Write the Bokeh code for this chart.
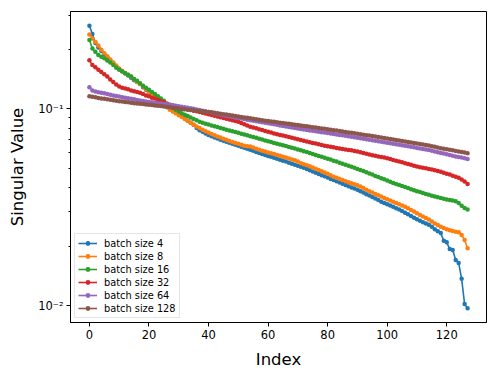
from bokeh.plotting import figure
from bokeh.models import Range1d, FixedTicker, CustomJSTickFormatter, Legend, LegendItem
from bokeh.embed import file_html
from bokeh.resources import INLINE
import math

index = list(range(128))

bs4 = [
    0.265, 0.240, 0.216, 0.205, 0.197, 0.190, 0.183, 0.178, 0.171, 0.165,
    0.160, 0.156, 0.152, 0.148, 0.144, 0.140, 0.137, 0.134, 0.129, 0.125,
    0.122, 0.118, 0.115, 0.112, 0.109, 0.106, 0.103, 0.100, 0.098, 0.096,
    0.094, 0.092, 0.090, 0.087, 0.085, 0.083, 0.080, 0.078, 0.0765, 0.075,
    0.0738, 0.0727, 0.0717, 0.0707, 0.0698, 0.0690, 0.0682, 0.0674, 0.0666, 0.0658,
    0.0650, 0.0643, 0.0635, 0.0627, 0.0620, 0.0613, 0.0605, 0.0598, 0.0590, 0.0583,
    0.0577, 0.0571, 0.0565, 0.0559, 0.0552, 0.0546, 0.0540, 0.0533, 0.0527, 0.0521,
    0.0515, 0.0509, 0.0502, 0.0495, 0.0488, 0.0481, 0.0474, 0.0467, 0.0461, 0.0455,
    0.0448, 0.0441, 0.0435, 0.0429, 0.0423, 0.0417, 0.0411, 0.0405, 0.0399, 0.0394,
    0.0388, 0.0382, 0.0376, 0.0369, 0.0363, 0.0357, 0.0351, 0.0345, 0.0338, 0.0333,
    0.0328, 0.0323, 0.0318, 0.0313, 0.0308, 0.0303, 0.0297, 0.0292, 0.0286, 0.0280,
    0.0275, 0.0270, 0.0266, 0.0262, 0.0258, 0.0252, 0.0245, 0.0239, 0.0234, 0.0214,
    0.0210, 0.0194, 0.0192, 0.0171, 0.0165, 0.0137, 0.0102, 0.0097,
]

bs8 = [
    0.239, 0.228, 0.219, 0.210, 0.200, 0.192, 0.185, 0.178, 0.172, 0.166,
    0.160, 0.156, 0.152, 0.149, 0.146, 0.141, 0.137, 0.134, 0.130, 0.126,
    0.122, 0.118, 0.115, 0.111, 0.108, 0.105, 0.102, 0.099, 0.097, 0.095,
    0.093, 0.091, 0.089, 0.087, 0.085, 0.083, 0.0815, 0.080, 0.0785, 0.077,
    0.0758, 0.0746, 0.0735, 0.0724, 0.0715, 0.0706, 0.0697, 0.0688, 0.0680, 0.0672,
    0.0665, 0.0658, 0.0651, 0.0647, 0.0644, 0.0636, 0.0628, 0.0621, 0.0614, 0.0607,
    0.0601, 0.0596, 0.0590, 0.0584, 0.0578, 0.0572, 0.0566, 0.0560, 0.0554, 0.0548,
    0.0541, 0.0530, 0.0524, 0.0518, 0.0511, 0.0504, 0.0497, 0.0490, 0.0483, 0.0476,
    0.0469, 0.0461, 0.0453, 0.0447, 0.0441, 0.0435, 0.0429, 0.0424, 0.0419, 0.0414,
    0.0410, 0.0403, 0.0396, 0.0389, 0.0382, 0.0376, 0.0370, 0.0364, 0.0359, 0.0353,
    0.0348, 0.0343, 0.0338, 0.0333, 0.0328, 0.0323, 0.0318, 0.0313, 0.0307, 0.0301,
    0.0295, 0.0289, 0.0284, 0.0279, 0.0274, 0.0268, 0.0262, 0.0257, 0.0252, 0.0248,
    0.0245, 0.0242, 0.0240, 0.0238, 0.0236, 0.0229, 0.0216, 0.0196,
]

bs16 = [
    0.224, 0.203, 0.195, 0.188, 0.184, 0.181, 0.176, 0.172, 0.167, 0.162,
    0.158, 0.155, 0.152, 0.149, 0.146, 0.142, 0.139, 0.135, 0.131, 0.128,
    0.125, 0.122, 0.119, 0.116, 0.113, 0.110, 0.106, 0.103, 0.101, 0.099,
    0.097, 0.095, 0.0935, 0.092, 0.0905, 0.089, 0.0875, 0.086, 0.0851, 0.0842,
    0.0833, 0.0825, 0.0817, 0.0809, 0.0801, 0.0793, 0.0785, 0.0777, 0.0770, 0.0763,
    0.0756, 0.0749, 0.0742, 0.0734, 0.0727, 0.0720, 0.0713, 0.0706, 0.0699, 0.0692,
    0.0685, 0.0679, 0.0672, 0.0666, 0.0660, 0.0654, 0.0648, 0.0641, 0.0635, 0.0629,
    0.0623, 0.0616, 0.0610, 0.0604, 0.0597, 0.0591, 0.0584, 0.0577, 0.0571, 0.0565,
    0.0559, 0.0553, 0.0546, 0.0540, 0.0533, 0.0527, 0.0520, 0.0514, 0.0508, 0.0502,
    0.0496, 0.0490, 0.0484, 0.0477, 0.0470, 0.0464, 0.0457, 0.0451, 0.0445, 0.0439,
    0.0433, 0.0427, 0.0421, 0.0416, 0.0411, 0.0406, 0.0401, 0.0396, 0.0391, 0.0386,
    0.0382, 0.0378, 0.0374, 0.0370, 0.0366, 0.0362, 0.0359, 0.0356, 0.0353, 0.0350,
    0.0347, 0.0345, 0.0343, 0.0340, 0.0333, 0.0322, 0.0314, 0.0308,
]

bs32 = [
    0.177, 0.167, 0.163, 0.158, 0.154, 0.150, 0.146, 0.141, 0.137, 0.133,
    0.130, 0.128, 0.127, 0.126, 0.124, 0.123, 0.122, 0.121, 0.119, 0.117,
    0.116, 0.114, 0.113, 0.111, 0.1095, 0.108, 0.1065, 0.105, 0.104, 0.103,
    0.102, 0.101, 0.100, 0.0995, 0.0988, 0.0980, 0.0972, 0.0964, 0.0956, 0.0948,
    0.0940, 0.0932, 0.0924, 0.0916, 0.0908, 0.0900, 0.0892, 0.0884, 0.0876, 0.0868,
    0.0860, 0.0849, 0.0837, 0.0825, 0.0813, 0.0805, 0.0797, 0.0789, 0.0781, 0.0773,
    0.0765, 0.0758, 0.0750, 0.0744, 0.0738, 0.0732, 0.0726, 0.0720, 0.0714, 0.0708,
    0.0702, 0.0696, 0.0690, 0.0684, 0.0678, 0.0672, 0.0667, 0.0661, 0.0655, 0.0650,
    0.0646, 0.0642, 0.0638, 0.0634, 0.0630, 0.0626, 0.0622, 0.0619, 0.0616, 0.0612,
    0.0607, 0.0602, 0.0597, 0.0592, 0.0587, 0.0582, 0.0578, 0.0574, 0.0570, 0.0566,
    0.0561, 0.0556, 0.0551, 0.0546, 0.0541, 0.0536, 0.0530, 0.0525, 0.0520, 0.0515,
    0.0510, 0.0506, 0.0502, 0.0499, 0.0496, 0.0492, 0.0488, 0.0484, 0.0479, 0.0474,
    0.0469, 0.0464, 0.0458, 0.0452, 0.0447, 0.0438, 0.0428, 0.0416,
]

bs64 = [
    0.129, 0.124, 0.1225, 0.1215, 0.1210, 0.1200, 0.1190, 0.1180, 0.1170, 0.1162,
    0.1155, 0.1148, 0.1141, 0.1134, 0.1127, 0.1120, 0.1110, 0.1104, 0.1098, 0.1092,
    0.1086, 0.1080, 0.1075, 0.1070, 0.1065, 0.1060, 0.1055, 0.1050, 0.1044, 0.1038,
    0.1033, 0.1027, 0.1021, 0.1015, 0.1008, 0.1001, 0.0994, 0.0987, 0.0980, 0.0973,
    0.0965, 0.0958, 0.0951, 0.0944, 0.0937, 0.0930, 0.0924, 0.0918, 0.0912, 0.0906,
    0.0900, 0.0894, 0.0888, 0.0882, 0.0876, 0.0870, 0.0865, 0.0860, 0.0855, 0.0850,
    0.0845, 0.0840, 0.0835, 0.0830, 0.0825, 0.0820, 0.0815, 0.0810, 0.0805, 0.0800,
    0.0795, 0.0790, 0.0786, 0.0782, 0.0778, 0.0774, 0.0770, 0.0766, 0.0762, 0.0758,
    0.0754, 0.0750, 0.0746, 0.0742, 0.0738, 0.0734, 0.0730, 0.0726, 0.0722, 0.0718,
    0.0714, 0.0710, 0.0706, 0.0702, 0.0698, 0.0694, 0.0690, 0.0686, 0.0682, 0.0678,
    0.0674, 0.0670, 0.0666, 0.0662, 0.0658, 0.0654, 0.0650, 0.0646, 0.0642, 0.0638,
    0.0634, 0.0630, 0.0626, 0.0622, 0.0618, 0.0613, 0.0608, 0.0603, 0.0598, 0.0593,
    0.0588, 0.0583, 0.0578, 0.0574, 0.0570, 0.0566, 0.0562, 0.0557,
]

bs128 = [
    0.1160, 0.1152, 0.1145, 0.1138, 0.1131, 0.1125, 0.1119, 0.1113, 0.1107, 0.1101,
    0.1095, 0.1090, 0.1085, 0.1080, 0.1075, 0.1070, 0.1066, 0.1062, 0.1058, 0.1054,
    0.1050, 0.1046, 0.1042, 0.1038, 0.1034, 0.1030, 0.1025, 0.1020, 0.1015, 0.1010,
    0.1005, 0.1000, 0.0996, 0.0992, 0.0988, 0.0984, 0.0980, 0.0976, 0.0972, 0.0968,
    0.0966, 0.0961, 0.0956, 0.0951, 0.0946, 0.0941, 0.0936, 0.0931, 0.0926, 0.0921,
    0.0916, 0.0911, 0.0906, 0.0901, 0.0896, 0.0891, 0.0886, 0.0881, 0.0876, 0.0871,
    0.0868, 0.0864, 0.0860, 0.0856, 0.0852, 0.0848, 0.0844, 0.0840, 0.0836, 0.0832,
    0.0828, 0.0824, 0.0820, 0.0816, 0.0812, 0.0808, 0.0804, 0.0800, 0.0796, 0.0792,
    0.0788, 0.0784, 0.0780, 0.0776, 0.0772, 0.0768, 0.0764, 0.0760, 0.0756, 0.0752,
    0.0748, 0.0744, 0.0740, 0.0736, 0.0732, 0.0728, 0.0724, 0.0720, 0.0716, 0.0712,
    0.0708, 0.0704, 0.0700, 0.0696, 0.0692, 0.0688, 0.0684, 0.0680, 0.0676, 0.0672,
    0.0668, 0.0664, 0.0660, 0.0656, 0.0652, 0.0647, 0.0642, 0.0637, 0.0632, 0.0628,
    0.0624, 0.0620, 0.0616, 0.0612, 0.0608, 0.0604, 0.0600, 0.0596,
]

series = [bs4, bs8, bs16, bs32, bs64, bs128]
labels = ["batch size 4", "batch size 8", "batch size 16",
          "batch size 32", "batch size 64", "batch size 128"]
colors = ["#1f77b4", "#ff7f0e", "#2ca02c", "#d62728", "#9467bd", "#8c564b"]

x_ticks = [0, 20, 40, 60, 80, 100, 120]
y_major = [0.01, 0.1]
y_minor = [0.02, 0.03, 0.04, 0.05, 0.06, 0.07, 0.08, 0.09, 0.2, 0.3]

FONT = "DejaVu Sans"

# matplotlib-like 5% margins
xmin, xmax = min(index), max(index)
xm = 0.05 * (xmax - xmin)
allv = [v for s in series for v in s]
lo, hi = math.log10(min(allv)), math.log10(max(allv))
ym = 0.05 * (hi - lo)

p = figure(width=498, height=374, y_axis_type="log",
           output_backend="svg", toolbar_location=None,
           x_range=Range1d(xmin - xm, xmax + xm),
           y_range=Range1d(10 ** (lo - ym), 10 ** (hi + ym)),
           min_border_left=70, min_border_right=12,
           min_border_top=11, min_border_bottom=52)

p.background_fill_color = "white"
p.border_fill_color = "white"
p.outline_line_color = "black"
p.outline_line_width = 1
p.xgrid.visible = False
p.ygrid.visible = False

items = []
for vals, lab, col in zip(series, labels, colors):
    rl = p.line(index, vals, line_color=col, line_width=1.6)
    rs = p.scatter(index, vals, size=4.5, fill_color=col, line_color=col, line_width=0)
    items.append(LegendItem(label=lab, renderers=[rl, rs]))

for ax in (p.xaxis[0], p.yaxis[0]):
    ax.axis_line_color = "black"
    ax.major_tick_line_color = "black"
    ax.minor_tick_line_color = "black"
    ax.major_tick_out = 4
    ax.major_tick_in = 0
    ax.minor_tick_out = 2
    ax.minor_tick_in = 0
    ax.major_label_text_font = FONT
    ax.major_label_text_font_size = "11.5px"
    ax.major_label_text_color = "black"
    ax.axis_label_text_font = FONT
    ax.axis_label_text_font_size = "16.5px"
    ax.axis_label_text_font_style = "normal"
    ax.axis_label_text_color = "black"

p.xaxis[0].ticker = FixedTicker(ticks=x_ticks, minor_ticks=[])
p.xaxis[0].axis_label = "Index"
p.xaxis[0].major_label_standoff = 3
p.xaxis[0].axis_label_standoff = 8

p.yaxis[0].ticker = FixedTicker(ticks=y_major, minor_ticks=y_minor)
p.yaxis[0].formatter = CustomJSTickFormatter(
    code="return tick < 0.05 ? '10\u207b\u00b2' : '10\u207b\u00b9';")
p.yaxis[0].axis_label = "Singular Value"
p.yaxis[0].major_label_standoff = 3
p.yaxis[0].axis_label_standoff = 8

legend = Legend(items=items, location="bottom_left")
legend.label_text_font = FONT
legend.label_text_font_size = "9.8px"
legend.label_text_color = "black"
legend.glyph_width = 19
legend.glyph_height = 12
legend.label_height = 12
legend.label_standoff = 7
legend.spacing = 1
legend.padding = 3
legend.margin = 4
legend.border_line_color = "#cccccc"
legend.border_line_width = 1
legend.background_fill_color = "white"
legend.background_fill_alpha = 0.8
p.add_layout(legend)

open("out.html", "w").write(file_html(p, INLINE))
